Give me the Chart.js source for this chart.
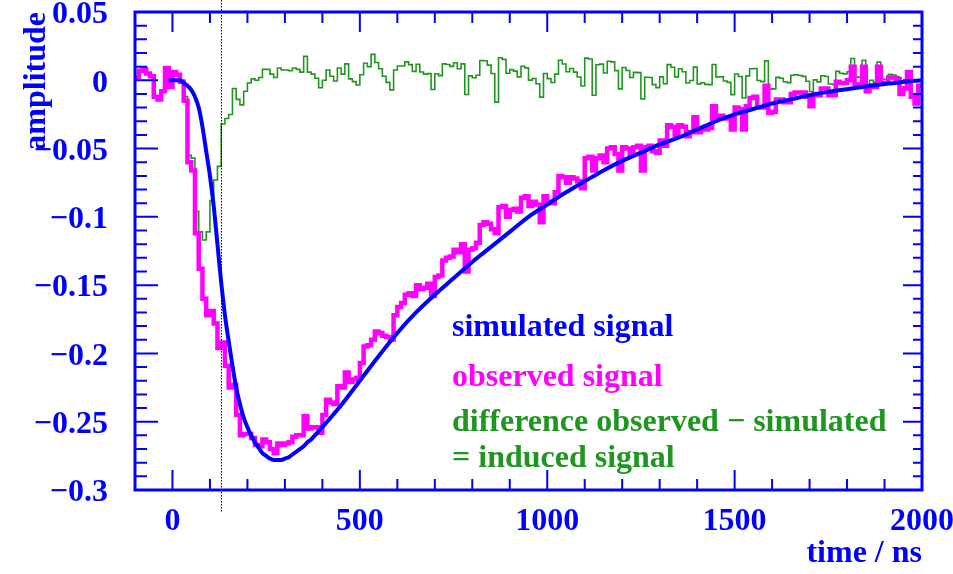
<!DOCTYPE html>
<html>
<head>
<meta charset="utf-8">
<title>Induced signal</title>
<script src="https://cdn.jsdelivr.net/npm/chart.js@4.4.1/dist/chart.umd.min.js"></script>
<style>
  html, body { margin: 0; padding: 0; background: #fff; }
  #wrap { width: 953px; height: 574px; }
</style>
</head>
<body>
<div id="wrap"><canvas id="signalChart" width="953" height="574"></canvas></div>
<script>
/* ==============================
   Observed vs simulated pulse, 10 ns bins
   ============================== */

const binStart = -100;   // ns, left edge of first bin
const binWidth = 10;     // ns

// observed signal, one value per bin
const observed = [
   0.002,  0.007,  0.008,  0.005,  0.003, -0.012, -0.014, -0.008,  0.009, -0.005,
   0.006,  0.004, -0.001, -0.015, -0.060, -0.066, -0.112, -0.138, -0.160, -0.172,
  -0.169, -0.178, -0.196, -0.192, -0.209, -0.225, -0.223, -0.245, -0.260, -0.259,
  -0.259, -0.262, -0.267, -0.268, -0.263, -0.265, -0.270, -0.273, -0.266, -0.267,
  -0.266, -0.265, -0.261, -0.260, -0.260, -0.246, -0.255, -0.254, -0.254, -0.258,
  -0.245, -0.234, -0.236, -0.237, -0.224, -0.225, -0.214, -0.221, -0.219, -0.218,
  -0.207, -0.195, -0.194, -0.190, -0.184, -0.185, -0.187, -0.188, -0.190, -0.172,
  -0.166, -0.163, -0.157, -0.156, -0.158, -0.150, -0.153, -0.152, -0.149, -0.158,
  -0.144, -0.143, -0.132, -0.130, -0.129, -0.124, -0.126, -0.120, -0.140, -0.124,
  -0.123, -0.119, -0.106, -0.104, -0.105, -0.109, -0.112, -0.093, -0.092, -0.100,
  -0.095, -0.094, -0.096, -0.086, -0.085, -0.092, -0.089, -0.091, -0.104, -0.085,
  -0.089, -0.090, -0.082, -0.070, -0.071, -0.075, -0.071, -0.072, -0.074, -0.079,
  -0.057, -0.056, -0.066, -0.057, -0.055, -0.060, -0.050, -0.049, -0.054, -0.066,
  -0.049, -0.050, -0.054, -0.049, -0.048, -0.066, -0.049, -0.048, -0.052, -0.053,
  -0.044, -0.048, -0.033, -0.034, -0.040, -0.033, -0.034, -0.041, -0.038, -0.027,
  -0.038, -0.036, -0.036, -0.035, -0.019, -0.027, -0.026, -0.028, -0.028, -0.036,
  -0.020, -0.021, -0.036, -0.019, -0.013, -0.012, -0.020, -0.020, -0.004, -0.024,
  -0.023, -0.014, -0.014, -0.016, -0.016, -0.010, -0.009, -0.009, -0.009, -0.012,
  -0.019, -0.010, -0.011, -0.006, -0.006, -0.011, -0.011, -0.001, -0.002, -0.002,
   0.000,  0.010, -0.003, -0.003,  0.010, -0.008, -0.004, -0.005,  0.010, -0.002,
  -0.002,  0.002,  0.002,  0.001, -0.010, -0.006,  0.006, -0.012, -0.017, -0.004
];

// difference observed - simulated, same bins
const induced = [
   0.002,  0.007,  0.008,  0.005,  0.003, -0.012, -0.014, -0.008,  0.009, -0.005,
   0.006,  0.004,  0.000, -0.012, -0.055, -0.057, -0.096, -0.111, -0.117, -0.111,
  -0.088, -0.073, -0.063, -0.032, -0.028, -0.025, -0.006, -0.014, -0.018, -0.008,
  -0.002,  0.001,  0.000,  0.002,  0.008,  0.008,  0.0045, 0.002,  0.009,  0.0075,
   0.0075, 0.007,  0.009,  0.008,  0.006,  0.0175, 0.006,  0.0045, 0.0015,-0.0055,
   0.000,  0.0075, 0.003, -0.0005, 0.009,  0.0045, 0.012,  0.001, -0.001, -0.0035,
   0.004,  0.0125, 0.010,  0.019,  0.013,  0.0085, 0.003, -0.0015,-0.007,  0.0075,
   0.0105, 0.0105, 0.0135, 0.0115, 0.0065, 0.0117, 0.0061, 0.0045, 0.0049,-0.0067,
   0.0048, 0.0034, 0.012,  0.0116, 0.0102, 0.0128, 0.0084, 0.012, -0.0104, 0.0032,
   0.0019, 0.0037, 0.0145, 0.0143, 0.0111, 0.005, -0.016,  0.0165, 0.0153, 0.0051,
   0.0078, 0.0067, 0.0025, 0.0103, 0.0091, 0.0001, 0.0013,-0.0025,-0.0123, 0.005,
   0.0012,-0.0016, 0.0045, 0.0147, 0.0119, 0.0062, 0.0086, 0.006,  0.0024,-0.0042,
   0.0162, 0.0156,-0.011,  0.0114, 0.0118, 0.0053, 0.0139, 0.0135, 0.0071,-0.0063,
   0.0094, 0.0072, 0.002,  0.0058, 0.0056,-0.0136, 0.0022, 0.002, -0.0032,-0.0054,
   0.0025,-0.0025, 0.0115, 0.0095, 0.0025, 0.0084, 0.0062,-0.002, -0.0002, 0.0096,
  -0.0026,-0.0018,-0.003, -0.0032, 0.0116, 0.0025, 0.0025,-0.0005,-0.0015,-0.0105,
   0.0046, 0.0028,-0.013,  0.0032, 0.0084, 0.0086,-0.0002,-0.001,  0.0142,-0.0066,
  -0.0063, 0.0021, 0.0015,-0.0011,-0.0017, 0.0037, 0.0041, 0.0035, 0.0029,-0.0007,
  -0.0082, 0.0003,-0.0012, 0.0033, 0.0028,-0.0027,-0.0031, 0.0065, 0.0051, 0.0047,
   0.0063, 0.0159, 0.0025, 0.0021, 0.0147,-0.0037, 0.000, -0.0014, 0.0133, 0.0009,
   0.0006, 0.0043, 0.0039, 0.0026,-0.0087,-0.0049, 0.0068,-0.0115,-0.0168,-0.0042
];

// simulated signal (smooth curve)
const simTime = [
  -10, 0, 10, 20, 30, 40, 50, 60, 70, 80, 90, 100, 110, 120, 130, 140, 150, 160, 170, 180,
  190, 200, 210, 220, 230, 240, 250, 260, 270, 280, 290, 300, 310, 320, 330, 340, 350, 360,
  370, 380, 390, 400, 450, 500, 550, 600, 650, 700, 750, 800, 850, 900, 950, 1000, 1050,
  1100, 1150, 1200, 1250, 1300, 1350, 1400, 1450, 1500, 1550, 1600, 1650, 1700, 1750,
  1800, 1850, 1900, 1950, 2000
];
const simValue = [
  0, 0, 0, 0, -0.002, -0.004, -0.007, -0.012, -0.020, -0.034, -0.052, -0.070, -0.092, -0.120,
  -0.148, -0.172, -0.191, -0.209, -0.225, -0.237, -0.247, -0.254, -0.260, -0.265, -0.269,
  -0.273, -0.275, -0.277, -0.278, -0.278, -0.278, -0.277, -0.276, -0.274, -0.272, -0.270,
  -0.268, -0.265, -0.263, -0.260, -0.257, -0.254, -0.238, -0.220, -0.202, -0.185, -0.170,
  -0.157, -0.145, -0.133, -0.122, -0.111, -0.100, -0.091, -0.082, -0.074, -0.066, -0.059,
  -0.053, -0.047, -0.042, -0.036, -0.030, -0.025, -0.021, -0.017, -0.014, -0.011, -0.0085,
  -0.0065, -0.0045, -0.0028, -0.0012, 0
];

const xTicks = [0, 500, 1000, 1500, 2000];
const yTicks = [-0.3, -0.25, -0.2, -0.15, -0.1, -0.05, 0, 0.05];
const triggerTime = 130;   // ns, dotted marker

const BLUE = '#0000ff';
const MAGENTA = '#ff00ff';
const GREEN = '#1f961f';
const FONT = 'Liberation Serif';

// step histogram points: value holds from each left edge to the next
function histPoints(values) {
    const pts = values.map((v, i) => ({ x: binStart + i * binWidth, y: v }));
    pts.push({ x: binStart + values.length * binWidth, y: values[values.length - 1] });
    return pts;
}

function fmtAmp(v) {
    const r = Math.round(v * 100) / 100;
    if (r === 0) return '0';
    return (r < 0 ? '\u2212' : '') + Math.abs(r);
}

// ── frame, inward ticks, marker and text ──────────
const framePlugin = {
    id: 'framePlugin',
    afterDatasetsDraw(chart) {
        const { ctx, chartArea: a, scales: { x, y } } = chart;
        ctx.save();

        // dotted marker line
        const tx = Math.round(x.getPixelForValue(triggerTime)) + 0.5;
        ctx.strokeStyle = '#000';
        ctx.lineWidth = 1;
        ctx.setLineDash([1.5, 1.5]);
        ctx.beginPath();
        ctx.moveTo(tx, 0);
        ctx.lineTo(tx, a.bottom + 22);
        ctx.stroke();
        ctx.setLineDash([]);

        ctx.strokeStyle = BLUE;
        ctx.lineWidth = 2;
        ctx.beginPath();
        for (let v = -100; v <= 2000; v += 100) {
            const px = x.getPixelForValue(v);
            const len = v % 500 === 0 ? 20 : 11;
            ctx.moveTo(px, a.bottom); ctx.lineTo(px, a.bottom - len);
            ctx.moveTo(px, a.top); ctx.lineTo(px, a.top + len);
        }
        for (let k = -30; k <= 5; k++) {
            const py = y.getPixelForValue(k / 100);
            const major = k % 5 === 0;
            ctx.moveTo(a.left, py); ctx.lineTo(a.left + (major ? 23 : 12), py);
            ctx.moveTo(a.right, py); ctx.lineTo(a.right - (major ? 19 : 9), py);
        }
        ctx.stroke();

        ctx.lineWidth = 3;
        ctx.strokeRect(a.left, a.top, a.right - a.left, a.bottom - a.top);
        ctx.restore();
    },
    afterDraw(chart) {
        const { ctx, chartArea: a } = chart;
        ctx.save();
        ctx.font = `bold 32px "${FONT}"`;
        ctx.fillStyle = BLUE;

        // axis titles
        ctx.textAlign = 'right';
        ctx.textBaseline = 'alphabetic';
        ctx.fillText('time / ns', a.right, 562);

        ctx.save();
        ctx.translate(45, a.top);
        ctx.rotate(-Math.PI / 2);
        ctx.textAlign = 'right';
        ctx.fillText('amplitude', 0, 0);
        ctx.restore();

        // in-plot labels
        ctx.textAlign = 'left';
        ctx.fillStyle = BLUE;
        ctx.fillText('simulated signal', 452, 336);
        ctx.fillStyle = MAGENTA;
        ctx.fillText('observed signal', 452, 386);
        ctx.fillStyle = GREEN;
        ctx.fillText('difference observed \u2212 simulated', 452, 431);
        ctx.fillText('= induced signal', 452, 467);
        ctx.restore();
    }
};

const tickFont = { family: FONT, weight: 'bold', size: 32 };

new Chart(document.getElementById('signalChart'), {
    type: 'line',
    data: {
        datasets: [
            {
                label: 'simulated signal',
                data: simTime.map((t, i) => ({ x: t, y: simValue[i] })),
                borderColor: BLUE, borderWidth: 4,
                pointRadius: 0, cubicInterpolationMode: 'monotone', order: 0
            },
            {
                label: 'observed signal',
                data: histPoints(observed),
                borderColor: MAGENTA, borderWidth: 4.5,
                pointRadius: 0, stepped: 'before', order: 1
            },
            {
                label: 'difference observed - simulated',
                data: histPoints(induced),
                borderColor: GREEN, borderWidth: 1.6,
                pointRadius: 0, stepped: 'before', order: 2
            }
        ]
    },
    options: {
        responsive: false,
        animation: false,
        layout: { padding: { top: 12, right: 31, left: 0, bottom: 0 } },
        plugins: { legend: { display: false }, tooltip: { enabled: false } },
        scales: {
            x: {
                type: 'linear', min: -100, max: 2000,
                grid: { display: false }, border: { display: false },
                afterBuildTicks: s => { s.ticks = xTicks.map(v => ({ value: v })); },
                afterFit: s => { s.height = 84; s.paddingLeft = 0; s.paddingRight = 0; },
                ticks: { font: tickFont, color: BLUE, padding: 5, maxRotation: 0, autoSkip: false,
                         callback: v => String(v) }
            },
            y: {
                type: 'linear', min: -0.3, max: 0.05,
                grid: { display: false }, border: { display: false },
                afterBuildTicks: s => { s.ticks = yTicks.map(v => ({ value: v })); },
                afterFit: s => { s.width = 135; s.paddingTop = 0; s.paddingBottom = 0; },
                ticks: { font: tickFont, color: BLUE, padding: 19, labelOffset: 3, autoSkip: false,
                         callback: fmtAmp }
            }
        }
    },
    plugins: [framePlugin]
});
</script>
</body>
</html>
